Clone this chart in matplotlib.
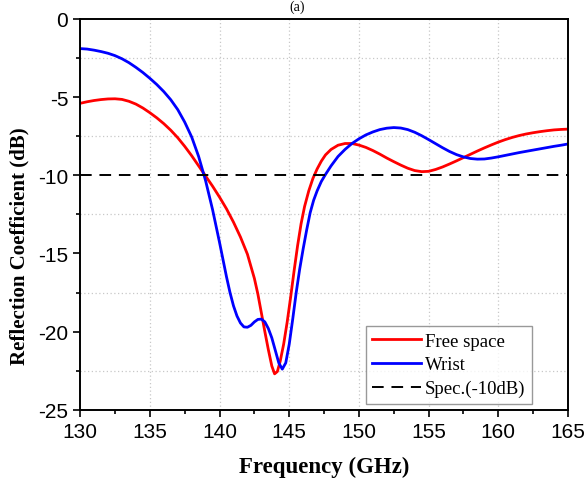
import matplotlib
matplotlib.use("Agg")
import matplotlib.pyplot as plt
from matplotlib.ticker import MultipleLocator

plt.rcParams["axes.unicode_minus"] = False

# values
freq_free = [130, 130.5, 131, 131.5, 132, 132.5, 133, 133.5, 134, 134.5, 135, 135.5,
             136, 136.5, 137, 137.5, 138, 138.5, 139, 139.5, 140, 140.5, 141, 141.5,
             142, 142.5, 142.75, 143, 143.25, 143.5, 143.75, 143.95, 144.15, 144.35,
             144.6, 144.85, 145.1, 145.35, 145.6, 145.85, 146.1, 146.4, 146.7, 147,
             147.3, 147.6, 148, 148.5, 149, 149.5, 150, 150.5, 151, 151.5, 152, 152.5,
             153, 153.5, 154, 154.5, 155, 155.5, 156, 156.5, 157, 157.5, 158, 158.5,
             159, 159.5, 160, 160.5, 161, 161.5, 162, 162.5, 163, 163.5, 164, 164.5, 165]
s11_free = [-5.40, -5.30, -5.22, -5.16, -5.12, -5.11, -5.15, -5.27, -5.45, -5.70, -6.00,
            -6.33, -6.70, -7.12, -7.60, -8.15, -8.75, -9.40, -10.05, -10.70, -11.40,
            -12.15, -13.0, -13.95, -15.05, -16.6, -17.6, -18.8, -20.0, -21.15, -22.2,
            -22.7, -22.55, -21.9, -20.8, -19.4, -17.8, -16.1, -14.5, -13.1, -12.0,
            -11.0, -10.2, -9.6, -9.1, -8.7, -8.35, -8.08, -7.97, -7.97, -8.07, -8.22,
            -8.42, -8.65, -8.9, -9.13, -9.35, -9.55, -9.70, -9.77, -9.75, -9.63, -9.47,
            -9.28, -9.08, -8.87, -8.66, -8.45, -8.25, -8.06, -7.88, -7.72, -7.58, -7.46,
            -7.36, -7.28, -7.21, -7.15, -7.10, -7.07, -7.05]

freq_wrist = [130, 130.5, 131, 131.5, 132, 132.5, 133, 133.5, 134, 134.5, 135, 135.5,
              136, 136.5, 137, 137.5, 138, 138.5, 139, 139.5, 140, 140.25, 140.5,
              140.75, 141, 141.25, 141.5, 141.75, 142, 142.25, 142.5, 142.75, 143,
              143.25, 143.5, 143.75, 144, 144.25, 144.5, 144.75, 145, 145.25, 145.5,
              145.75, 146, 146.25, 146.5, 146.75, 147, 147.3, 147.6, 148, 148.5, 149,
              149.5, 150, 150.5, 151, 151.5, 152, 152.5, 153, 153.5, 154, 154.5, 155,
              155.5, 156, 156.5, 157, 157.5, 158, 158.5, 159, 159.5, 160, 160.5, 161,
              161.5, 162, 162.5, 163, 163.5, 164, 164.5, 165]
s11_wrist = [-1.90, -1.93, -2.00, -2.09, -2.20, -2.35, -2.55, -2.80, -3.10, -3.43, -3.80,
             -4.20, -4.65, -5.17, -5.80, -6.60, -7.55, -8.80, -10.35, -12.2, -14.3,
             -15.4, -16.5, -17.5, -18.35, -19.0, -19.45, -19.7, -19.72, -19.6, -19.38,
             -19.22, -19.2, -19.38, -19.8, -20.4, -21.2, -22.0, -22.4, -22.0, -20.8,
             -19.2, -17.5, -16.0, -14.7, -13.5, -12.4, -11.6, -11.0, -10.4, -9.95, -9.4,
             -8.8, -8.35, -7.97, -7.67, -7.42, -7.23, -7.08, -6.99, -6.95, -6.98, -7.08,
             -7.25, -7.47, -7.72, -7.98, -8.24, -8.48, -8.68, -8.83, -8.93, -8.97, -8.96,
             -8.90, -8.82, -8.73, -8.64, -8.55, -8.47, -8.39, -8.31, -8.23, -8.15, -8.08,
             -8.00]

spec_level = -10
x_ticks = [130, 135, 140, 145, 150, 155, 160, 165]
y_ticks = [0, -5, -10, -15, -20, -25]

fig = plt.figure(figsize=(5.85, 4.85), dpi=100)
ax = fig.add_axes([0.137, 0.153, 0.834, 0.806])

# grid: vertical at major x, horizontal at odd minor y
for xv in x_ticks[1:-1]:
    ax.axvline(xv, color="#c8c8c8", lw=0.9, ls=(0, (1, 2)), zorder=0)
for yv in [-2.5, -7.5, -12.5, -17.5, -22.5]:
    ax.axhline(yv, color="#c8c8c8", lw=0.9, ls=(0, (1, 2)), zorder=0)

ax.plot(freq_free, s11_free, color="#ff0000", lw=2.0, label="Free space")
ax.plot(freq_wrist, s11_wrist, color="#0000ff", lw=2.0, label="Wrist")
ax.axhline(spec_level, color="black", lw=1.4, ls=(0, (6, 4)), label="Spec.(-10dB)")

ax.set_xlim(130, 165)
ax.set_ylim(-25, 0)
ax.set_xticks(x_ticks)
ax.set_yticks(y_ticks)
ax.xaxis.set_minor_locator(MultipleLocator(2.5))
ax.yaxis.set_minor_locator(MultipleLocator(2.5))
ax.tick_params(which="both", direction="out", top=False, right=False, width=1.2)
ax.tick_params(which="major", length=5, labelsize=15)
ax.tick_params(which="minor", length=3)
for lab in ax.get_xticklabels() + ax.get_yticklabels():
    lab.set_family("Liberation Sans")
for sp in ax.spines.values():
    sp.set_linewidth(1.4)

ax.set_xlabel("Frequency (GHz)", family="Liberation Serif", fontweight="bold",
              fontsize=16.5, labelpad=11)
ax.set_ylabel("Reflection Coefficient (dB)", family="Liberation Serif",
              fontweight="bold", fontsize=15)
ax.yaxis.set_label_coords(-0.104, 0.422)

leg = ax.legend(loc="lower right", bbox_to_anchor=(0.926, 0.015),
                prop={"family": "Liberation Serif", "size": 13.5},
                fancybox=False, handlelength=2.6, handletextpad=0.2,
                borderpad=0.35, labelspacing=0.35, borderaxespad=0)
leg.get_frame().set_edgecolor("#808080")
leg.get_frame().set_linewidth(1.0)

fig.text(0.508, 0.998, "(a)", ha="center", va="top", fontsize=10,
         family="Liberation Serif")

fig.savefig("out.png", dpi=100)
